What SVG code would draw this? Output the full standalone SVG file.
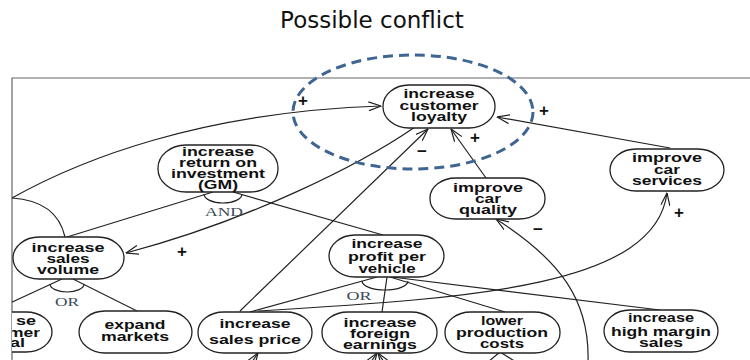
<svg xmlns="http://www.w3.org/2000/svg" width="750" height="360" viewBox="0 0 750 360">
<defs>
<style>
.frame{fill:none;stroke:#666;stroke-width:1.2}
.node rect{fill:#fff;stroke:#222;stroke-width:1.3}
.node text{font-family:"Liberation Sans",Arial,sans-serif;font-weight:bold;font-size:12.5px;fill:#111;text-anchor:middle}
.c{fill:none;stroke:#222;stroke-width:1.2}
.sign{font-family:"Liberation Sans",Arial,sans-serif;font-weight:bold;font-size:17px;fill:#111;text-anchor:middle}
.gate{font-family:"Liberation Serif","Times New Roman",serif;font-size:13px;fill:#3b4a5a;text-anchor:middle}
.title{font-family:"DejaVu Sans",Verdana,sans-serif;font-size:23px;fill:#111;text-anchor:middle}
.conflict{fill:none;stroke:#3f6593;stroke-width:3;stroke-dasharray:10 6}
</style>
<marker id="arr" viewBox="0 0 13 10" refX="12.5" refY="5" markerWidth="13" markerHeight="10" markerUnits="userSpaceOnUse" orient="auto">
<path d="M0,0.5 L12.5,5 L0,9.5" fill="none" stroke="#222" stroke-width="1.2"/>
</marker>
<clipPath id="inframe"><rect x="12" y="78" width="738" height="282"/></clipPath>
</defs>

<text class="title" x="372" y="28">Possible conflict</text>
<path class="frame" d="M750,78 H12 V360"/>

<g id="connectors">
<path class="c" d="M12,198 C80,160 200,112 381,106" marker-end="url(#arr)"/>
<path class="c" d="M12,198 Q57,201 65,237"/>
<path class="c" d="M213,192 L67,237"/>
<path class="c" d="M233,192 L383,235"/>
<path class="c" d="M204,194 A19,9 0 0 0 242,194"/>
<path class="c" d="M415,127 C360,165 250,220 126,253" marker-end="url(#arr)"/>
<path class="c" d="M240,311 L428,129" marker-end="url(#arr)"/>
<path class="c" d="M486,178 L451,129" marker-end="url(#arr)"/>
<path class="c" d="M670,148 L497,117" marker-end="url(#arr)"/>
<g clip-path="url(#inframe)">
<path class="c" d="M62,279 L-5,310"/>
</g>
<path class="c" d="M73,279 L137,311"/>
<path class="c" d="M50,284 A17,8 0 0 0 84,284"/>
<path class="c" d="M377,277 L250,312"/>
<path class="c" d="M387,277 L382,312"/>
<path class="c" d="M390,277 L505,312"/>
<path class="c" d="M392,277 L660,310"/>
<path class="c" d="M362,281 A23,9 0 0 0 408,281"/>
<path class="c" d="M258,311 C480,298 655,285 667,193" marker-end="url(#arr)"/>
<path class="c" d="M588,362 C590,300 560,260 496,219" marker-end="url(#arr)"/>
<path class="c" d="M252,362 L258,353" marker-end="url(#arr)"/>
<path class="c" d="M371,362 L377,353" marker-end="url(#arr)"/>
<path class="c" d="M384,362 L378,353" marker-end="url(#arr)"/>
<path class="c" d="M500,352 L488,362"/>
<path class="c" d="M500,352 L516,362"/>
<text class="gate" x="224" y="216" textLength="38" lengthAdjust="spacingAndGlyphs">AND</text>
<text class="gate" x="67" y="306" textLength="24" lengthAdjust="spacingAndGlyphs">OR</text>
<text class="gate" x="359" y="300" textLength="25" lengthAdjust="spacingAndGlyphs">OR</text>
<text class="sign" x="303" y="106">+</text>
<text class="sign" x="544" y="116">+</text>
<text class="sign" x="475" y="143">+</text>
<text class="sign" x="182" y="257">+</text>
<text class="sign" x="679" y="218">+</text>
<text class="sign" x="422" y="157">−</text>
<text class="sign" x="538" y="235">−</text>
</g>

<g id="n-loyalty" class="node">
<rect x="383" y="85" width="112" height="43" rx="26" ry="21"/>
<text x="439" y="98" textLength="71" lengthAdjust="spacingAndGlyphs">increase</text>
<text x="439" y="110" textLength="79" lengthAdjust="spacingAndGlyphs">customer</text>
<text x="439" y="121" textLength="56" lengthAdjust="spacingAndGlyphs">loyalty</text>
</g>
<g id="n-roi" class="node">
<rect x="158" y="145" width="120" height="47" rx="28" ry="23"/>
<text x="218" y="156" textLength="72" lengthAdjust="spacingAndGlyphs">increase</text>
<text x="218" y="167" textLength="78" lengthAdjust="spacingAndGlyphs">return on</text>
<text x="218" y="178" textLength="94" lengthAdjust="spacingAndGlyphs">investment</text>
<text x="218" y="189" textLength="40" lengthAdjust="spacingAndGlyphs">(GM)</text>
</g>
<g id="n-quality" class="node">
<rect x="430" y="178" width="115" height="41" rx="26" ry="20"/>
<text x="488" y="192" textLength="70" lengthAdjust="spacingAndGlyphs">improve</text>
<text x="488" y="203" textLength="26" lengthAdjust="spacingAndGlyphs">car</text>
<text x="488" y="214" textLength="58" lengthAdjust="spacingAndGlyphs">quality</text>
</g>
<g id="n-services" class="node">
<rect x="610" y="149" width="114" height="42" rx="26" ry="21"/>
<text x="667" y="162" textLength="70" lengthAdjust="spacingAndGlyphs">improve</text>
<text x="667" y="174" textLength="26" lengthAdjust="spacingAndGlyphs">car</text>
<text x="667" y="185" textLength="70" lengthAdjust="spacingAndGlyphs">services</text>
</g>
<g id="n-volume" class="node">
<rect x="13" y="237" width="111" height="42" rx="26" ry="21"/>
<text x="68" y="252" textLength="73" lengthAdjust="spacingAndGlyphs">increase</text>
<text x="68" y="263" textLength="43" lengthAdjust="spacingAndGlyphs">sales</text>
<text x="68" y="274" textLength="62" lengthAdjust="spacingAndGlyphs">volume</text>
</g>
<g id="n-profit" class="node">
<rect x="329" y="235" width="115" height="42" rx="26" ry="21"/>
<text x="387" y="248" textLength="71" lengthAdjust="spacingAndGlyphs">increase</text>
<text x="387" y="261" textLength="78" lengthAdjust="spacingAndGlyphs">profit per</text>
<text x="387" y="273" textLength="57" lengthAdjust="spacingAndGlyphs">vehicle</text>
</g>
<g id="n-partial" class="node" clip-path="url(#inframe)">
<rect x="-62" y="312" width="114" height="40" rx="26" ry="20"/>
<text x="36" y="325" style="text-anchor:end" textLength="20" lengthAdjust="spacingAndGlyphs">se</text>
<text x="40" y="337" style="text-anchor:end" textLength="32" lengthAdjust="spacingAndGlyphs">mer</text>
<text x="25" y="347" style="text-anchor:end" textLength="15" lengthAdjust="spacingAndGlyphs">al</text>
</g>
<g id="n-expand" class="node">
<rect x="79" y="311" width="113" height="42" rx="26" ry="21"/>
<text x="135" y="329" textLength="61" lengthAdjust="spacingAndGlyphs">expand</text>
<text x="135" y="341" textLength="68" lengthAdjust="spacingAndGlyphs">markets</text>
</g>
<g id="n-price" class="node">
<rect x="198" y="312" width="114" height="41" rx="26" ry="20"/>
<text x="255" y="328" textLength="71" lengthAdjust="spacingAndGlyphs">increase</text>
<text x="255" y="344" textLength="92" lengthAdjust="spacingAndGlyphs">sales price</text>
</g>
<g id="n-foreign" class="node">
<rect x="322" y="312" width="115" height="41" rx="26" ry="20"/>
<text x="380" y="327" textLength="73" lengthAdjust="spacingAndGlyphs">increase</text>
<text x="380" y="338" textLength="60" lengthAdjust="spacingAndGlyphs">foreign</text>
<text x="380" y="349" textLength="74" lengthAdjust="spacingAndGlyphs">earnings</text>
</g>
<g id="n-lower" class="node">
<rect x="445" y="312" width="115" height="41" rx="26" ry="20"/>
<text x="502" y="325" textLength="42" lengthAdjust="spacingAndGlyphs">lower</text>
<text x="502" y="337" textLength="92" lengthAdjust="spacingAndGlyphs">production</text>
<text x="502" y="348" textLength="44" lengthAdjust="spacingAndGlyphs">costs</text>
</g>
<g id="n-highmargin" class="node">
<rect x="604" y="310" width="114" height="42" rx="26" ry="21"/>
<text x="661" y="322" textLength="66" lengthAdjust="spacingAndGlyphs">increase</text>
<text x="661" y="336" textLength="100" lengthAdjust="spacingAndGlyphs">high margin</text>
<text x="661" y="347" textLength="44" lengthAdjust="spacingAndGlyphs">sales</text>
</g>

<ellipse id="conflict" class="conflict" cx="413" cy="112" rx="120" ry="57"/>
</svg>
